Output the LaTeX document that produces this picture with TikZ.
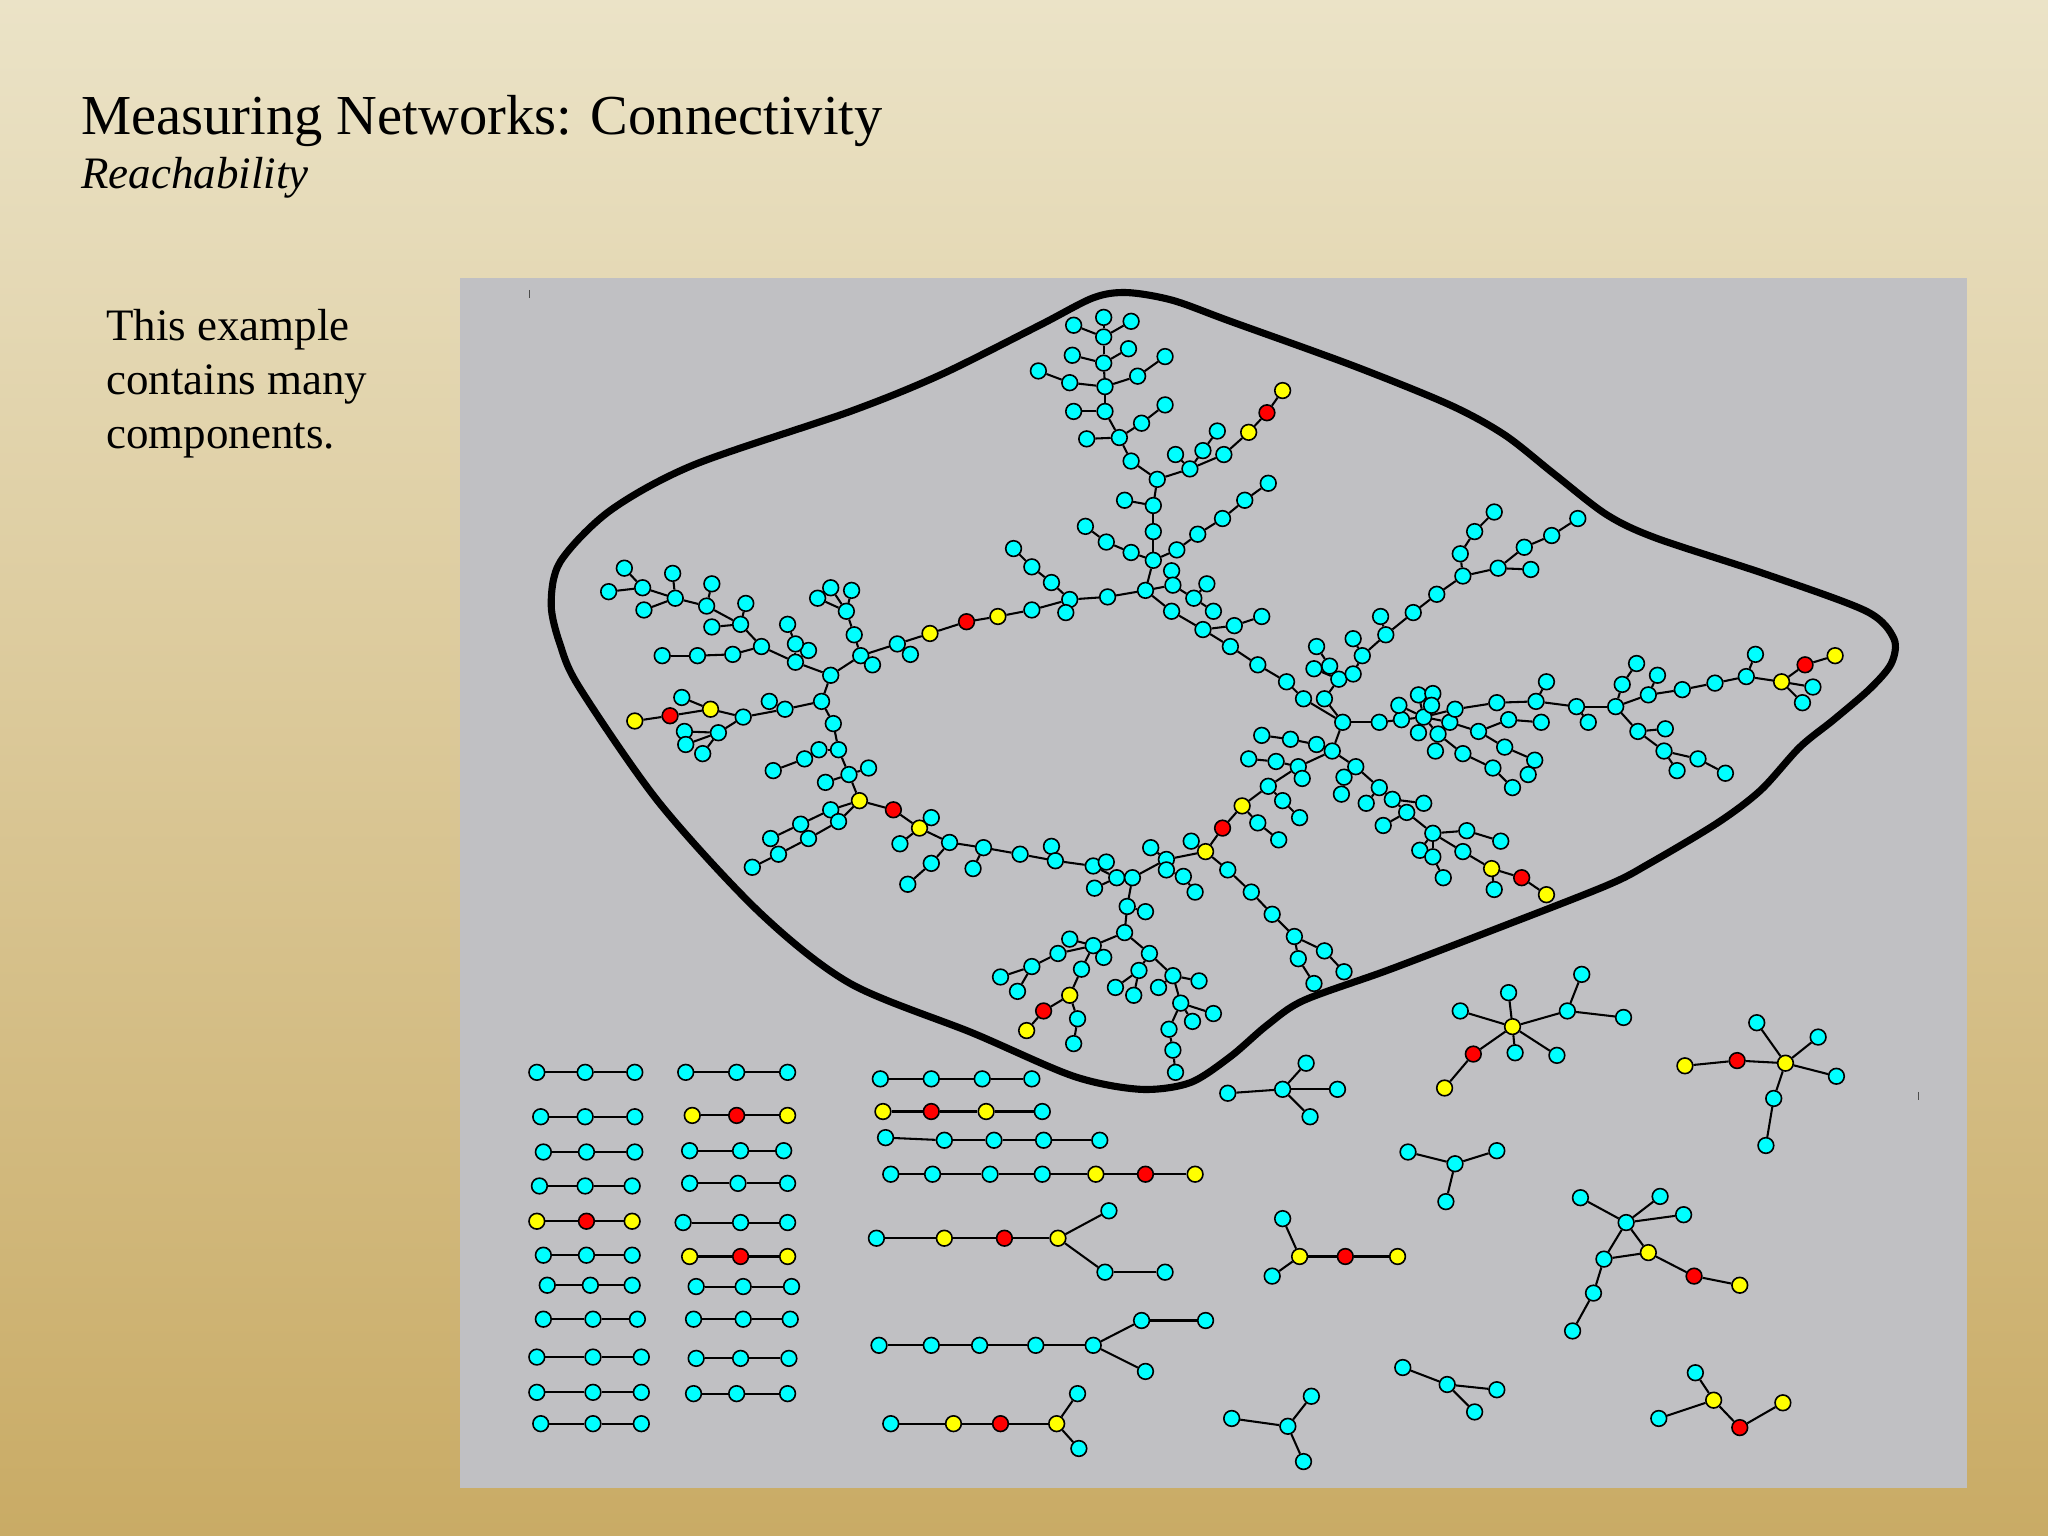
\documentclass[tikz,border=0pt]{standalone}
\usepackage{fontspec}
\setmainfont{Liberation Serif}
\pgfdeclarelayer{bg}
\pgfdeclarelayer{edges}
\pgfsetlayers{bg,edges,main}
\definecolor{aq}{RGB}{0,255,255}
\definecolor{yl}{RGB}{255,255,0}
\definecolor{rd}{RGB}{255,0,0}
\definecolor{panel}{RGB}{192,192,195}
\definecolor{bgtop}{RGB}{235,227,199}
\definecolor{bgbot}{RGB}{201,171,101}
\begin{document}
\begin{tikzpicture}[x=0.02cm,y=-0.02cm,
  nd/.style={circle,draw=black,line width=0.7pt,minimum size=0.24cm,inner sep=0pt},
  ed/.style={line width=0.9pt,black},
  hull/.style={line width=3.1pt,black},
  txt/.style={anchor=base west,inner sep=0pt,text=black}]
\useasboundingbox (0,0) rectangle (1568,1176);
\begin{pgfonlayer}{bg}
\shade[top color=bgtop,bottom color=bgbot] (0,0) rectangle (1568,1176);
\fill[panel] (352,213) rectangle (1506,1139);
\draw[hull] plot[smooth cycle,tension=0.5] coordinates {(863,224) (898,230) (942,246) (1036,280) (1110,310) (1152,333) (1190,363) (1230,394) (1268,412) (1353,440) (1429,468) (1450,489) (1448,508) (1432,527) (1404,551) (1378,572) (1348,605) (1315,630) (1263,661) (1230,678) (1138,714) (1062,743) (998,766) (970,785) (942,809) (911,829) (873,834) (822,824) (745,791) (651,753) (582,699) (505,615) (444,527) (429,494) (422,463) (429,430) (467,391) (531,356) (651,315) (720,287) (796,249) (837,228)};
\draw[line width=0.4pt,black!70] (405,222) -- (405,228);
\draw[line width=0.4pt,black!70] (1469,836) -- (1469,842);
\end{pgfonlayer}

\node[txt,font=\fontsize{24.6}{30}\selectfont] (title) at (62,103) {Measuring Networks: Connectivity};
\node[txt,font=\fontsize{19.6}{24}\selectfont\itshape] (subtitle) at (62,144) {Reachability};
\node[txt,font=\fontsize{19.6}{24}\selectfont] (body1) at (81,261) {This example};
\node[txt,font=\fontsize{19.6}{24}\selectfont] (body2) at (81,302) {contains many};
\node[txt,font=\fontsize{19.6}{24}\selectfont] (body3) at (81,343) {components.};

% ---------- large component ----------
\foreach \n/\x/\y/\c in {
t0/877/452/aq, t1/883/429/aq, t2/883/407/aq, t3/883/387/aq, t4/886/367/aq, t5/866/353/aq, t6/857/335/aq, t7/846/315/aq, t8/846/296/aq, t9/845/278/aq, t10/845/258/aq, t11/845/243/aq, t12/822/249/aq, t13/866/246/aq, t14/821/272/aq, t15/864/267/aq, t16/819/293/aq, t17/795/284/aq, t18/871/288/aq, t19/892/273/aq, t20/822/315/aq, t21/832/336/aq, t22/874/324/aq, t23/892/310/aq, t24/911/359/aq, t25/900/348/aq, t26/921/345/aq, t27/932/330/aq, t28/937/348/aq, t29/956/331/yl, t30/970/316/rd, t31/982/299/yl, t32/861/383/aq, t33/866/423/aq, t34/847/415/aq, t35/831/403/aq, t36/901/421/aq, t37/917/409/aq, t38/936/397/aq, t39/953/383/aq, t40/971/370/aq,
a1/848/457/aq, a2/819/459/aq, a3/816/469/aq, a4/805/446/aq, a5/790/434/aq, a6/776/420/aq, a7/790/467/aq, a8/764/472/yl, a9/740/476/rd, a10/712/485/yl, a11/687/493/aq, a12/697/501/aq, a13/659/502/aq, a14/668/509/aq, a15/654/486/aq, a16/648/468/aq, a17/652/452/aq, a18/636/450/aq, a19/626/458/aq,
b1/636/517/aq, b2/609/507/aq, b3/619/498/aq, b4/609/493/aq, b5/603/478/aq, b6/583/495/aq, b7/561/501/aq, b8/534/502/aq, b9/507/502/aq, b10/567/478/aq, b11/571/462/aq, b12/545/480/aq, b13/541/464/aq, b14/545/447/aq, b15/517/458/aq, b16/515/439/aq, b17/493/467/aq, b18/492/450/aq, b19/478/435/aq, b20/466/453/aq,
c1/629/537/aq, c2/601/543/aq, c3/589/537/aq, c4/569/549/aq, c5/544/543/yl, c6/522/534/aq, c7/513/548/rd, c8/486/552/yl, c9/550/561/aq, c10/524/560/aq, c11/525/570/aq, c12/538/577/aq, c13/638/554/aq, c14/642/574/aq, c15/627/574/aq, c16/616/581/aq, c17/592/590/aq, c18/650/593/aq, c19/632/599/aq, c20/665/588/aq, c21/658/613/yl, c22/636/620/aq, c23/613/631/aq, c24/590/642/aq, c25/642/629/aq, c26/619/642/aq, c27/596/654/aq, c28/576/664/aq,
d1/684/620/rd, d2/704/634/yl, d3/713/626/aq, d4/689/646/aq, d5/727/645/aq, d6/713/661/aq, d7/695/677/aq, d8/753/649/aq, d9/745/665/aq, d10/781/654/aq, d11/805/648/aq, d12/808/659/aq, d13/837/663/aq, d14/847/660/aq, d15/855/672/aq, d16/838/680/aq, d17/867/672/aq,
e1/936/634/rd, e2/923/652/yl, e3/912/644/aq, e4/893/658/aq, e5/881/649/aq, e6/893/666/aq, e7/906/671/aq, e8/915/683/aq, e9/940/666/aq, e10/958/683/aq, e11/974/700/aq, e12/991/717/aq, e13/1014/728/aq, e14/1029/744/aq, e15/994/734/aq, e16/1006/753/aq,
g1/863/694/aq, g2/877/698/aq, g3/861/714/aq, g4/837/724/aq, g5/819/719/aq, g6/845/733/aq, g7/810/730/aq, g8/790/740/aq, g9/766/748/aq, g10/779/759/aq, g11/828/742/aq, g12/819/762/yl, g13/799/774/rd, g14/786/789/yl, g15/825/780/aq, g16/822/799/aq, g17/880/730/aq, g18/872/743/aq, g19/854/756/aq, g20/868/762/aq, g21/898/747/aq, g22/918/751/aq, g23/887/756/aq, g24/904/768/aq, g25/929/776/aq, g26/913/782/aq, g27/895/788/aq, g28/898/804/aq, g29/900/821/aq,
f1/951/617/yl, f2/971/602/aq, f3/963/630/aq, f4/979/643/aq, f5/982/613/aq, f6/995/626/aq, f7/994/587/aq, f8/997/596/aq, f9/977/583/aq, f10/956/581/aq, f11/1020/575/aq, f12/1008/570/aq, f13/988/566/aq, f14/966/563/aq, f15/1028/553/aq,
r0/897/437/aq, r1/898/448/aq, r2/914/458/aq, r3/924/447/aq, r4/929/468/aq, r5/897/468/aq, r6/921/482/aq, r7/942/495/aq, r8/963/509/aq, r9/985/522/aq, r10/945/479/aq, r11/966/472/aq, r12/998/535/aq,
u1/1014/535/aq, u2/1025/520/aq, u3/1036/516/aq, u4/1043/502/aq, u5/1036/489/aq, u6/1061/486/aq, u7/1057/472/aq, u8/1082/469/aq, u9/1100/455/aq, u10/1120/441/aq, u11/1147/435/aq, u12/1172/436/aq, u13/1167/419/aq, u14/1188/410/aq, u15/1208/397/aq, u16/1118/424/aq, u17/1129/407/aq, u18/1144/392/aq, u19/1006/512/aq, u20/1018/510/aq, u21/1008/495/aq,
v1/1056/553/aq, v2/1073/551/aq, v3/1090/549/aq, v4/1071/540/aq, v5/1086/532/aq, v6/1097/531/aq, v7/1096/540/aq, v8/1110/553/aq, v9/1114/543/aq, v10/1086/561/aq, v11/1101/562/aq, v12/1099/575/aq, v13/1120/577/aq, v14/1132/560/aq, v15/1155/551/aq, v16/1180/553/aq, v17/1152/572/aq, v18/1175/582/aq, v19/1170/593/aq, v20/1143/588/aq, v21/1158/603/aq, v22/1146/538/aq, v23/1176/537/aq, v24/1184/522/aq, v25/1207/541/aq, v26/1216/553/aq,
w1/1237/541/aq, w2/1242/524/aq, w3/1253/508/aq, w4/1262/532/aq, w5/1269/517/aq, w6/1288/528/aq, w7/1313/523/aq, w8/1337/518/aq, w9/1344/501/aq, w10/1364/522/yl, w11/1382/509/rd, w12/1405/502/yl, w13/1388/526/aq, w14/1380/538/aq, w15/1254/560/aq, w16/1275/558/aq, w17/1274/575/aq, w18/1300/581/aq, w19/1321/592/aq, w20/1284/590/aq,
x1/1038/587/aq, x2/1029/595/aq, x3/1027/608/aq, x4/1056/603/aq, x5/1046/615/aq, x6/1066/612/aq, x7/1090/615/aq, x8/1077/622/aq, x9/1059/632/aq, x10/1097/638/aq, x11/1123/636/aq, x12/1149/644/aq, x13/1087/651/aq, x14/1097/656/aq, x15/1105/672/aq, x16/1120/652/aq, x17/1142/665/yl, x18/1165/672/rd, x19/1184/685/yl, x20/1144/681/aq}
  {\node[nd,fill=\c] (\n) at (\x,\y) {};}

% ---------- small components ----------
\foreach \n/\x/\y/\c in {
s1/1158/786/yl, s2/1155/760/aq, s3/1118/774/aq, s4/1200/774/aq, s5/1211/746/aq, s6/1243/779/aq, s7/1160/806/aq, s8/1192/808/aq, s9/1128/807/rd, s10/1106/833/yl,
p1/1367/814/yl, p2/1345/783/aq, p3/1392/794/aq, p4/1406/824/aq, p5/1330/812/rd, p6/1290/816/yl, p7/1358/841/aq, p8/1352/877/aq,
q1/982/834/aq, q2/1000/814/aq, q3/940/837/aq, q4/1024/834/aq, q5/1003/855/aq,
k1/1114/891/aq, k2/1078/882/aq, k3/1146/881/aq, k4/1107/920/aq,
m1/982/933/aq, m2/995/962/yl, m3/974/977/aq, m4/1030/962/rd, m5/1070/962/yl,
n1/1245/936/aq, n2/1210/917/aq, n3/1271/916/aq, n4/1289/930/aq, n5/1262/959/yl, n6/1228/964/aq, n7/1220/990/aq, n8/1204/1019/aq, n9/1297/977/rd, n10/1332/984/yl,
o1/1108/1060/aq, o2/1074/1047/aq, o3/1146/1064/aq, o4/1129/1081/aq,
z1/986/1092/aq, z2/943/1086/aq, z3/1004/1069/aq, z4/998/1119/aq,
y1/1312/1072/yl, y2/1298/1051/aq, y3/1270/1086/aq, y4/1332/1093/rd, y5/1365/1074/yl,
A1/674/826/aq, A2/713/826/aq, A3/752/826/aq, A4/790/826/aq,
B1/676/851/yl, B2/713/851/rd, B3/755/851/yl, B4/798/851/aq,
C1/678/871/aq, C2/723/873/aq, C3/761/873/aq, C4/799/873/aq, C5/842/873/aq,
D1/682/899/aq, D2/714/899/aq, D3/758/899/aq, D4/798/899/aq, D5/839/899/yl, D6/877/899/rd, D7/915/899/yl,
E1/671/948/aq, E2/723/948/yl, E3/769/948/rd, E4/810/948/yl, E5/849/927/aq, E6/846/974/aq, E7/892/974/aq,
F1/673/1030/aq, F2/713/1030/aq, F3/750/1030/aq, F4/793/1030/aq, F5/837/1030/aq, F6/874/1011/aq, F7/923/1011/aq, F8/877/1050/aq,
G1/682/1090/aq, G2/730/1090/yl, G3/766/1090/rd, G4/809/1090/yl, G5/825/1067/aq, G6/826/1109/aq}
  {\node[nd,fill=\c] (\n) at (\x,\y) {};}

% ---------- three-node chains ----------
\foreach \r/\y/\xa/\xb/\xc/\ca/\cb in {
L1/821/411/448/486/aq/aq, L2/855/414/448/486/aq/aq, L3/882/416/449/486/aq/aq, L4/908/413/448/484/aq/aq, L5/935/411/449/484/yl/rd, L6/961/416/449/484/aq/aq, L7/984/419/452/484/aq/aq, L8/1010/416/454/488/aq/aq, L9/1039/411/454/491/aq/aq, L10/1066/411/454/491/aq/aq, L11/1090/414/454/491/aq/aq,
M1/821/525/564/603/aq/aq, M2/854/530/564/603/yl/rd, M3/881/528/567/600/aq/aq, M4/906/528/565/603/aq/aq, M5/936/523/567/603/aq/aq, M6/962/528/567/603/yl/rd, M7/985/533/569/606/aq/aq, M8/1010/531/569/605/aq/aq, M9/1040/533/567/604/aq/aq, M10/1067/531/564/603/aq/aq}
  {\node[nd,fill=\ca] (\r a) at (\xa,\y) {};
   \node[nd,fill=\cb] (\r b) at (\xb,\y) {};
   \node[nd,fill=\ca] (\r c) at (\xc,\y) {};
   \begin{pgfonlayer}{edges}
   \draw[ed] (\r a) -- (\r b) -- (\r c);
   \end{pgfonlayer}}

\begin{pgfonlayer}{edges}
\foreach \a/\b in {
t0/t1, t1/t2, t2/t3, t3/t4, t4/t5, t5/t6, t6/t7, t7/t8, t8/t9, t9/t10, t10/t11, t10/t12, t10/t13, t9/t14, t9/t15, t8/t16, t16/t17, t8/t18, t18/t19, t7/t20, t6/t21, t6/t22, t22/t23, t4/t24, t24/t25, t24/t26, t26/t27, t24/t28, t28/t29, t29/t30, t30/t31, t3/t32, t1/t33, t33/t34, t34/t35, t1/t36, t36/t37, t37/t38, t38/t39, t39/t40,
t0/a1, a1/a2, a2/a3, a2/a4, a4/a5, a5/a6, a2/a7, a7/a8, a8/a9, a9/a10, a10/a11, a11/a12, a11/a13, a13/a14, a13/a15, a15/a16, a16/a17, a16/a18, a16/a19,
a13/b1, b1/b2, b2/b3, b2/b4, b4/b5, b2/b6, b6/b7, b7/b8, b8/b9, b6/b10, b10/b11, b10/b12, b10/b13, b13/b14, b13/b15, b15/b16, b15/b17, b15/b18, b18/b19, b18/b20,
b1/c1, c1/c2, c2/c3, c2/c4, c4/c5, c5/c6, c5/c7, c7/c8, c4/c9, c9/c10, c9/c11, c9/c12, c1/c13, c13/c14, c14/c15, c15/c16, c16/c17, c14/c18, c18/c19, c18/c20, c18/c21, c21/c22, c22/c23, c23/c24, c21/c25, c25/c26, c26/c27, c27/c28,
c21/d1, d1/d2, d2/d3, d2/d4, d2/d5, d5/d6, d6/d7, d5/d8, d8/d9, d8/d10, d10/d12, d12/d11, d12/d13, d13/d14, d13/d15, d15/d16, d15/d17,
d17/e4, e4/e5, e4/e2, e4/e6, e6/e7, e7/e8, e2/e3, e2/e1, e2/e9, e9/e10, e10/e11, e11/e12, e12/e13, e13/e14, e12/e15, e15/e16,
d17/g1, g1/g2, g1/g3, g3/g4, g4/g5, g4/g6, g4/g7, g7/g8, g8/g9, g8/g10, g4/g11, g11/g12, g12/g13, g13/g14, g12/g15, g15/g16, g3/g17, g17/g18, g18/g19, g18/g20, g17/g21, g21/g22, g21/g23, g21/g24, g24/g25, g24/g26, g24/g27, g27/g28, g28/g29,
e1/f1, f1/f2, f1/f3, f3/f4, f2/f5, f5/f6, f2/f7, f7/f8, f7/f9, f9/f10, f7/f11, f11/f12, f12/f13, f13/f14, f11/f15,
t0/r1, r1/r0, r1/r2, r2/r3, r2/r4, t0/r5, r5/r6, r6/r7, r7/r8, r8/r9, r6/r10, r10/r11, r9/r12, r12/f15,
f15/u1, u1/u2, u2/u3, u3/u4, u4/u5, u4/u6, u6/u7, u6/u8, u8/u9, u9/u10, u10/u11, u11/u12, u11/u13, u13/u14, u14/u15, u10/u16, u16/u17, u17/u18, u2/u19, u2/u20, u20/u21,
f15/v1, v1/v2, v2/v3, v3/v4, v3/v5, v3/v6, v3/v7, v3/v8, v3/v9, v3/v10, v3/v11, v11/v12, v11/v13, v8/v14, v14/v15, v15/v16, v14/v17, v17/v18, v18/v19, v13/v20, v20/v21, v9/v22, v22/v23, v23/v24, v23/v25, v25/v26,
v25/w1, w1/w2, w2/w3, w1/w4, w4/w5, w4/w6, w6/w7, w7/w8, w8/w9, w8/w10, w10/w11, w11/w12, w10/w13, w10/w14, w1/w15, w15/w16, w15/w17, w17/w18, w18/w19, w17/w20,
f11/x1, x1/x2, x2/x3, x1/x4, x4/x5, x4/x6, x6/x7, x6/x8, x8/x9, x8/x10, x10/x11, x11/x12, x10/x13, x10/x14, x14/x15, x10/x16, x16/x17, x17/x18, x18/x19, x17/x20,
s1/s2, s1/s3, s1/s4, s4/s5, s4/s6, s1/s7, s1/s8, s1/s9, s9/s10,
p1/p2, p1/p3, p1/p4, p1/p5, p5/p6, p1/p7, p7/p8,
q1/q2, q1/q3, q1/q4, q1/q5,
k1/k2, k1/k3, k1/k4,
m1/m2, m3/m2, m2/m4, m4/m5,
n1/n2, n1/n3, n1/n4, n1/n5, n1/n6, n6/n5, n6/n7, n7/n8, n5/n9, n9/n10,
o1/o2, o1/o3, o1/o4,
z1/z2, z1/z3, z1/z4,
y1/y2, y1/y3, y1/y4, y4/y5,
A1/A2, A2/A3, A3/A4,
B1/B2, B2/B3, B3/B4,
C1/C2, C2/C3, C3/C4, C4/C5,
D1/D2, D2/D3, D3/D4, D4/D5, D5/D6, D6/D7,
E1/E2, E2/E3, E3/E4, E4/E5, E4/E6, E6/E7,
F1/F2, F2/F3, F3/F4, F4/F5, F5/F6, F6/F7, F5/F8,
G1/G2, G2/G3, G3/G4, G4/G5, G4/G6}
  {\draw[ed] (\a) -- (\b);}
\end{pgfonlayer}
\end{tikzpicture}
\end{document}
